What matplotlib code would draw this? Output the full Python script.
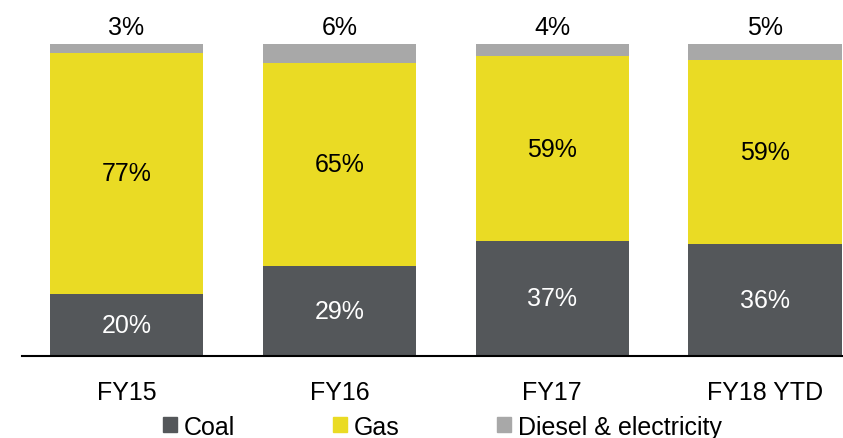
import numpy as np
import matplotlib.pyplot as plt
from matplotlib.patches import Patch

plt.rcParams['font.family'] = ['Liberation Sans', 'DejaVu Sans']

years = ["FY15", "FY16", "FY17", "FY18 YTD"]
coal = [20, 29, 37, 36]
gas = [77, 65, 59, 59]
diesel = [3, 6, 4, 5]

c_coal = "#54575a"
c_gas = "#eadb24"
c_diesel = "#a8a8a8"

fig = plt.figure(figsize=(8.43, 4.39), dpi=100)
ax = fig.add_axes([22 / 843, 82 / 439, 821 / 843, 312 / 439])

x = np.arange(len(years))
w = 0.72
coal = np.array(coal)
gas = np.array(gas)
diesel = np.array(diesel)

ax.bar(x, coal, w, color=c_coal)
ax.bar(x, gas, w, bottom=coal, color=c_gas)
ax.bar(x, diesel, w, bottom=coal + gas, color=c_diesel)

fs = 18
for i in range(len(years)):
    ax.text(x[i], coal[i] / 2, f"{coal[i]}%", ha="center", va="center",
            color="white", fontsize=fs)
    ax.text(x[i], coal[i] + gas[i] / 2, f"{gas[i]}%", ha="center", va="center",
            color="black", fontsize=fs)
    ax.text(x[i], coal[i] + gas[i] + diesel[i] + 1.5, f"{diesel[i]}%", ha="center",
            va="bottom", color="black", fontsize=fs)

ax.set_xlim(-0.491, 3.366)
ax.set_ylim(0, 100)
ax.set_yticks([])
ax.set_xticks(x)
ax.set_xticklabels(years, fontsize=fs)
ax.tick_params(axis="x", length=0, pad=17)
for s in ["top", "right", "left"]:
    ax.spines[s].set_visible(False)
ax.spines["bottom"].set_linewidth(1.5)

handles = [Patch(color=c_coal, label="Coal"),
           Patch(color=c_gas, label="Gas"),
           Patch(color=c_diesel, label="Diesel & electricity")]
fig.legend(handles=handles, loc="center", bbox_to_anchor=(0.525, 0.026),
           ncol=3, frameon=False, fontsize=fs, handlelength=0.56, handleheight=0.56,
           handletextpad=0.28, columnspacing=3.9, borderpad=0)

fig.savefig("out.png", dpi=100)
